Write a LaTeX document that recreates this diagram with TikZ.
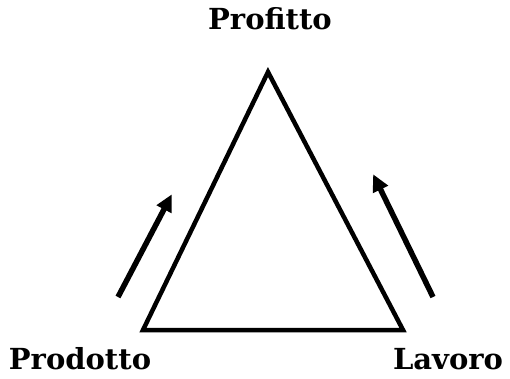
\documentclass[tikz,border=0pt]{standalone}
\usepackage{fontspec}
\setmainfont{DejaVu Serif}
\usetikzlibrary{arrows.meta}
\begin{document}
\begin{tikzpicture}[x=1pt,y=-1pt,
  lbl/.style={font=\fontsize{29}{32}\selectfont\bfseries, anchor=base, inner sep=0pt},
  tri/.style={line width=4.5pt, line join=miter},
  arr/.style={line width=5.5pt, -{Triangle[length=17pt,width=16pt]}, shorten >=-2pt}]
\useasboundingbox (0,0) rectangle (510,378);
\coordinate (top) at (268,72);
\coordinate (bl) at (143,330);
\coordinate (br) at (403,330);
\draw[tri] (top) -- (bl) -- (br) -- cycle;
\coordinate (a1s) at (118,297);
\coordinate (a1e) at (171,196);
\coordinate (a2s) at (433,297);
\coordinate (a2e) at (374,176);
\draw[arr] (a1s) -- (a1e);
\draw[arr] (a2s) -- (a2e);
\node[lbl] (profitto) at (270,29) {Profitto};
\node[lbl] (prodotto) at (80,369) {Prodotto};
\node[lbl] (lavoro) at (448,369) {Lavoro};
\end{tikzpicture}
\end{document}
